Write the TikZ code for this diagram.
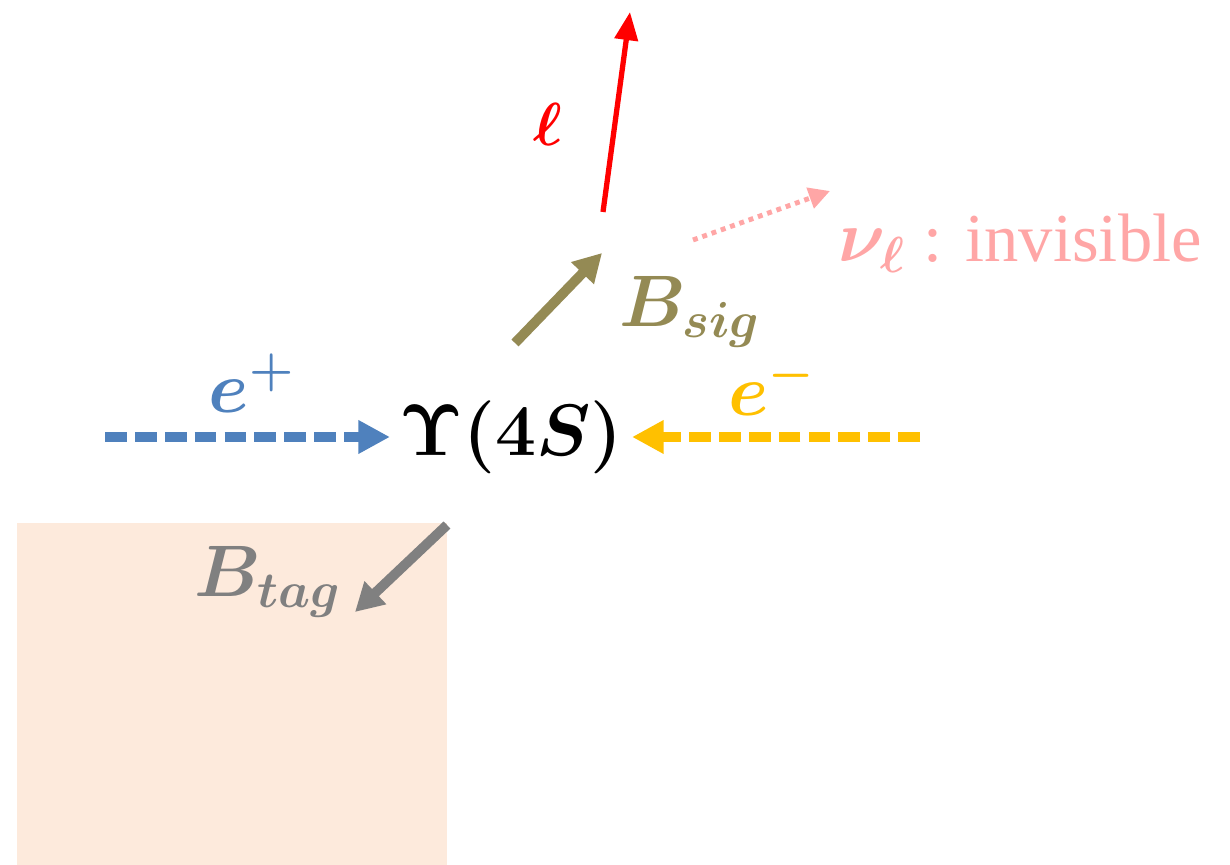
\documentclass[tikz,border=0pt]{standalone}
\usepackage{amsmath, amssymb}
\usepackage[no-math]{fontspec}
\setmainfont{Liberation Serif}
\usepackage{xcolor}
\usepackage{tikz}
\usetikzlibrary{positioning,arrows.meta}

\definecolor{beamblue}{RGB}{79,129,189}
\definecolor{beamorange}{RGB}{255,192,0}
\definecolor{sigolive}{RGB}{148,138,84}
\definecolor{taggray}{RGB}{128,128,128}
\definecolor{nupink}{RGB}{255,166,166}
\definecolor{tagpeach}{RGB}{253,234,220}

\begin{document}
\begin{tikzpicture}[x=0.01cm, y=-0.01cm,
    lbl/.style={inner sep=0pt, font=\fontsize{20}{24}\selectfont\boldmath},
    beam/.style={line width=2.8pt, dash pattern=on 6.2pt off 2.3pt,
      -{Triangle[length=9pt,width=9pt]}},
    fat/.style={line width=2.8pt, -{Triangle[length=8pt,width=8.5pt]}}]
  \useasboundingbox (0,0) rectangle (1230,865);
  % Tag side
  \fill[tagpeach] (17,523) rectangle (447,865);
  % Nodes
  \node[inner sep=2.5pt, font=\fontsize{20.5}{24}\selectfont\boldmath] (ups) at (511,437) {$\mathbf{\Upsilon(4}\boldsymbol{S}\mathbf{)}$};
  \node[lbl, beamblue] (eplus) at (252,383) {$e^{+}$};
  \node[lbl, beamorange] (eminus) at (772,386) {$e^{-}$};
  \node[lbl, sigolive] (bsig) at (690,312) {$B_{sig}$};
  \node[lbl, taggray] (btag) at (268,582) {$B_{tag}$};
  \node[lbl, red, font=\fontsize{18}{22}\selectfont\boldmath] (lep) at (548,124) {$\ell$};
  \node[lbl, nupink, anchor=west, font=\fontsize{19.5}{24}\selectfont] (nu) at (838,243) {{\boldmath$\nu_{\ell}$}~: invisible};
  \coordinate (ein) at (105,437);
  \coordinate (eout) at (920,437);
  \coordinate (sigfrom) at (515,343);
  \coordinate (sigto) at (602,253);
  \coordinate (lepfrom) at (603,212);
  \coordinate (lepto) at (630,12);
  \coordinate (nufrom) at (693,240);
  \coordinate (nuto) at (830,191);
  \coordinate (tagfrom) at (447,525);
  \coordinate (tagto) at (355,612);
  % Edges
  \draw[beam, beamblue] (ein) -- (ups);
  \draw[beam, beamorange] (eout) -- (ups);
  \draw[fat, sigolive] (sigfrom) -- (sigto);
  \draw[fat, taggray] (tagfrom) -- (tagto);
  \draw[red, line width=1.5pt, -{Triangle[length=8pt,width=6.5pt]}] (lepfrom) -- (lepto);
  \draw[nupink, line width=1.4pt, dash pattern=on 1.4pt off 1.4pt,
    -{Triangle[length=6pt,width=6pt]}] (nufrom) -- (nuto);
\end{tikzpicture}
\end{document}
